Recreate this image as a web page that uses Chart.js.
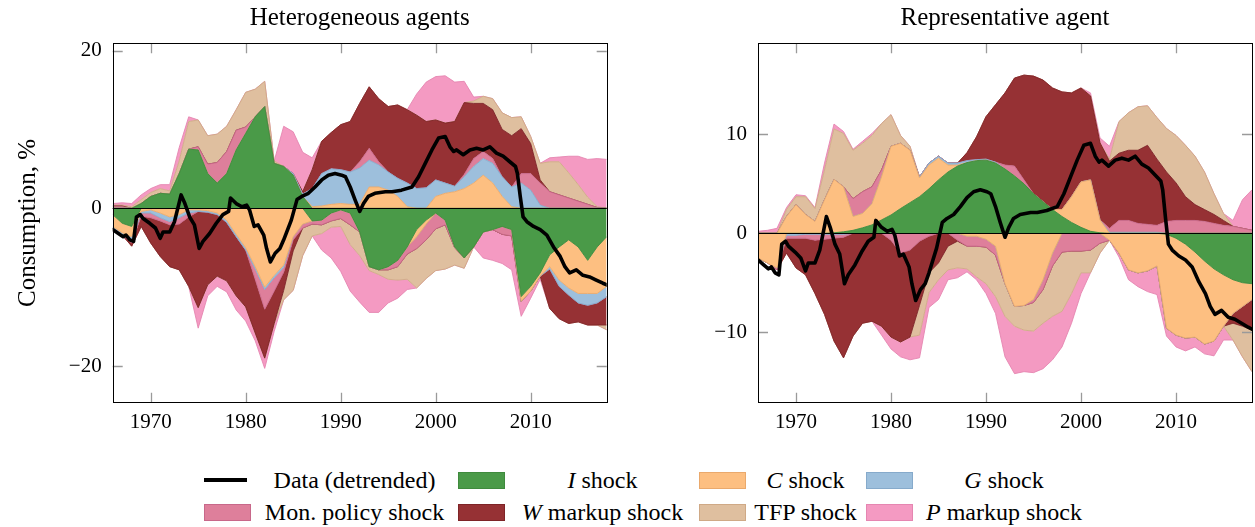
<!DOCTYPE html>
<html>
<head>
<meta charset="utf-8">
<script src="https://cdn.jsdelivr.net/npm/chart.js@4.4.0/dist/chart.umd.min.js"></script>
<style>
  body { margin: 0; background: #fff; width: 1255px; height: 527px; overflow: hidden; position: relative;
         font-family: "Liberation Serif", "Times New Roman", serif; color: #000; }
  canvas { position: absolute; top: 0; }
  #hank { left: 0; }
  #rank { left: 640px; }
  .sym { position: absolute; box-sizing: border-box; }
  .lbl { position: absolute; text-align: center; font-size: 24px; line-height: 28px; white-space: nowrap; }
</style>
</head>
<body>
<canvas id="hank" width="620" height="440"></canvas>
<canvas id="rank" width="615" height="440"></canvas>
<div id="legend"></div>
<script>
// ---- data ---------------------------------------------------------------
const years = [1966,1967,1968,1969,1970,1971,1972,1973,1974,1975,1976,1977,1978,1979,1980,1981,1982,
  1983,1984,1985,1986,1987,1988,1989,1990,1991,1992,1993,1994,1995,1996,1997,1998,1999,2000,2001,2002,
  2003,2004,2005,2006,2007,2008,2009,2010,2011,2012,2013,2014,2015,2016,2017,2018];

const xTicks = [1970, 1980, 1990, 2000, 2010];
const yTicksHank = [-20, 0, 20];
const yTicksRank = [-10, 0, 10];

// detrended consumption (same series in both panels)
const dataYears = [1966.0,1966.6,1967.1,1967.4,1967.8,1968.2,1968.5,1968.9,1969.2,1969.9,1970.5,1971.0,
  1971.3,1972.0,1972.5,1973.2,1973.6,1974.1,1974.6,1975.1,1975.5,1976.2,1976.9,1977.6,1978.2,1978.4,
  1979.0,1979.6,1980.1,1980.4,1980.9,1981.3,1981.9,1982.2,1982.6,1983.1,1983.6,1984.0,1984.8,1985.4,
  1985.9,1986.6,1987.3,1988.0,1988.7,1989.4,1990.1,1990.5,1991.0,1991.5,1992.0,1992.4,1992.9,1993.6,
  1994.7,1995.4,1996.4,1997.5,1998.2,1998.9,1999.6,2000.3,2001.0,2001.5,2001.9,2002.2,2002.9,2003.6,
  2004.3,2005.0,2005.7,2006.4,2007.1,2007.8,2008.4,2008.6,2008.9,2009.2,2009.6,2010.3,2011.0,2011.7,
  2012.4,2013.1,2013.6,2014.1,2014.8,2015.5,2016.2,2016.9,2017.6,2018.0];
const dataValues = [-2.7,-3.2,-3.6,-3.4,-4.0,-4.2,-1.1,-0.8,-1.3,-1.9,-2.5,-3.8,
  -3.0,-3.0,-1.7,1.7,0.6,-1.1,-2.1,-5.1,-4.2,-3.2,-1.9,-0.8,-0.4,1.3,
  0.6,0.2,0.4,-0.2,-2.3,-2.1,-3.4,-5.1,-6.8,-5.7,-5.1,-4.0,-1.5,1.1,
  1.5,1.9,2.7,3.6,4.2,4.4,4.2,4.0,2.7,1.1,-0.4,0.6,1.5,1.9,
  2.1,2.1,2.3,2.7,4.0,5.7,7.4,8.9,9.1,7.8,7.2,7.4,6.8,7.4,
  7.6,7.4,7.8,7.0,6.6,5.9,5.3,4.4,1.5,-1.1,-1.7,-2.3,-2.7,-3.4,
  -4.9,-6.1,-7.4,-8.2,-7.8,-8.5,-8.7,-9.1,-9.5,-9.7];

// shock contributions, heterogeneous agents
const hankI   = [-0.8,-1.9,-2.3,0.6,1.5,1.9,1.8,4.4,7.5,7.4, 4.4,3.2,4.4,7.4,9.5,11.6,12.9,5.7,5.3,4.2,
  1.5,-1.6,-1.5,-0.6,-0.2,-0.6,-3.0,-7.4,-7.8,-7.4, -6.6,-4.9,-2.7,-1.5,-0.6,-1.5,-4.9,-6.3,-4.9,-3.0,
  -2.7,-2.3,-2.7,-11.2,-9.9,-8.2,-5.9,-4.9,-4.0,-4.9, -6.6,-4.9,-3.6];
const hankC   = [-1.5,-1.2,-1.3,-0.4,-0.2,-0.6,-1.1,-0.8,-0.2,-0.2, -0.3,-0.6,-1.5,-3.3,-5.0,-7.4,-10.0,-8.5,-7.2,-3.6,
  -2.0,0.2,0.3,0.5,0.6,0.5,0.5,2.7,2.7,2.3, 1.5,0.2,-0.9,-0.5,1.5,1.9,2.1,2.5,3.2,4.2,
  3.2,1.5,0.2,-0.6,-0.6,-0.4,-1.5,-4.2,-6.1,-5.9, -4.2,-5.9,-6.3];
const hankG   = [-0.3,-0.3,-0.4,-0.2,-0.4,-0.6,-0.6,-0.4,-0.4,-0.2, -0.2,-0.2,-0.3,-0.3,-0.3,-0.3,-0.3,-0.3,-0.3,0.2,
  0.3,2.3,4.1,4.5,4.3,4.1,4.6,3.4,2.8,2.3, 2.3,3.0,2.5,2.6,2.1,1.3,0.7,1.5,2.1,2.1,
  2.5,2.5,2.5,3.2,2.3,0.4,-0.3,-0.8,-0.9,-1.2, -1.5,-1.2,-1.3];
const hankMon = [0.2,0.2,-0.4,-0.4,-0.6,-0.4,-0.4,-0.8,-0.5,0.4, 1.2,2.6,2.8,2.5,0.8,-1.3,-2.5,-1.7,-0.6,-0.4,
  -0.5,-0.4,-0.6,-1.0,-1.1,-1.5,0.8,1.5,0.4,-0.4, -0.8,-0.9,-1.5,-2.0,-2.0,-0.6,-0.1,0.3,1.0,0.9,
  0.6,-1.0,-0.8,1.2,2.1,2.8,2.1,1.7,1.3,0.9, 0.5,0.1,0.0];
const hankW   = [0.1,0.1,-0.4,-1.3,-3.2,-4.5,-5.3,-5.8,-8.8,-12.2, -9.2,-7.8,-7.4,-7.5,-7.2,-6.8,-6.2,-4.1,-2.3,-1.4,
  0.3,2.4,4.1,4.6,5.7,6.4,7.4,7.8,8.0,8.3, 9.3,9.3,9.3,8.4,7.6,7.6,8.2,9.1,7.0,6.1,
  6.2,6.0,6.5,5.7,3.8,0.4,-5.0,-4.1,-3.6,-2.4, -2.5,-2.8,-3.6];
const hankTFP = [0.1,0.1,0.2,0.5,0.5,0.6,0.4,1.6,3.5,3.4, 3.6,3.6,3.2,2.6,4.4,3.5,3.2,0.3,-1.2,-5.0,
  -3.5,-1.5,-1.1,-0.8,-1.0,-2.5,-3.0,-0.5,-0.6,-1.2, -1.7,-3.2,-5.0,-4.9,-5.3,-5.6,-2.2,-1.3,0.3,0.9,
  1.4,2.1,2.3,1.5,0.9,2.1,3.8,4.2,3.2,2.1, 0.9,0.1,-0.6];
const hankP   = [0.2,0.3,0.4,0.6,0.5,0.5,0.8,1.7,0.6,-2.6, -1.4,-1.3,-1.4,-1.8,-1.8,-1.0,-1.3,-1.0,5.1,5.3,
  5.0,1.5,-2.1,-3.9,-5.7,-5.9,-5.9,-5.3,-4.8,-3.0, -2.3,-1.3,2.7,5.0,5.5,6.0,5.0,2.7,0.5,-3.3,
  -3.9,-3.7,-4.3,-1.9,-0.9,-0.4,0.5,0.6,2.1,3.6, 4.8,6.1,6.2];

// shock contributions, representative agent
const rankI   = [0,0,0,0,0,0,0,0,0.05,0.15, 0.3,0.55,0.85,1.35,1.85,2.5,3.1,3.7,4.5,5.4,
  6.2,6.8,7.15,7.35,7.4,7.1,6.5,5.8,5.0,4.0, 3.2,2.4,1.7,1.1,0.6,0.2,0.05,0,0,0,
  0,0,0,-0.1,-0.5,-1.1,-1.9,-2.8,-3.6,-4.2, -4.7,-5.0,-5.1];
const rankC   = [-2.5,-3.0,-3.5,1.7,2.9,1.9,1.2,3.4,5.4,4.55, 1.4,1.45,2.15,4.35,6.95,6.6,5.3,1.9,2.4,2.2,
  0.7,0.1,-0.3,-0.3,-0.6,-1.3,-5.1,-7.4,-7.3,-6.7, -4.7,-2.0,0.7,2.6,4.6,5.2,1.3,-0.7,-2.0,-3.7,
  -4.0,-3.8,-3.3,-9.5,-9.8,-9.5,-8.6,-8.4,-7.3,-5.2, -3.4,-2.4,-1.6];
const rankG   = [0,0,0,-0.2,-0.2,-0.1,-0.1,-0.1,-0.1,-0.1, 0,0,0,0,0,0,0,0.1,0.2,0.2,
  0.2,0.2,0.2,0.1,0.1,0.1,0,0,0,0, 0,0,0,0,0,0,0,0.1,0.1,0.1,
  0.1,0.1,0.1,0,0,0,0,0,0,0, 0,0,0];
const rankMon = [0,0,-0.2,-0.3,-0.3,-0.4,-0.6,-0.5,-0.4,-0.3, 1.8,2.2,1.7,0.7,-0.7,-2.0,-1.7,-0.8,-0.3,0,
  0,-0.7,-1.0,-1.0,-0.8,-0.9,0.4,1.0,0.4,-0.3, -1.0,-1.3,-1.9,-1.8,-1.8,-1.7,-1.0,0.4,1.2,1.2,
  0.9,0.8,0.7,1.2,1.3,1.3,1.3,1.2,1.0,0.8, 0.7,0.5,0.3];
const rankW   = [0,0,0,-1.5,-3.0,-3.7,-5.4,-7.6,-10.4,-12.2, -10.4,-9.1,-8.9,-9.4,-9.8,-9.0,-8.8,-6.5,-3.7,-3.0,
  -1.3,-0.1,0.8,2.3,4.3,5.8,7.3,8.9,10.6,11.9, 12.3,12.3,11.9,10.5,9.5,8.5,7.8,6.8,6.8,7.1,
  7.4,8.0,6.7,5.0,3.8,2.4,1.6,1.2,0.9,0.5, -1.0,-2.0,-3.1];
const rankTFP = [0,0,0,0.7,0.8,1.8,1.3,3.0,5.1,5.4, 4.9,4.9,5.2,4.7,3.2,0.8,0.4,-3.0,-2.0,-1.7,
  -2.4,-2.7,-2.3,-3.1,-3.7,-4.2,-3.3,-2.0,-2.5,-2.9, -3.4,-5.1,-6.0,-4.3,-2.2,-2.3,-1.0,0.2,3.2,3.8,
  4.4,4.0,4.2,4.4,4.8,5.2,4.9,3.8,2.1,0.7, -1.7,-3.1,-4.2];
const rankP   = [0.2,0.3,0.5,0.2,0.2,0.1,0.1,0.7,0.5,0.2, 0.1,0.2,0.2,-0.9,-1.2,-1.5,-2.3,-2.3,-1.5,-2.0,
  -1.0,-1.0,-0.3,-0.3,-1.0,-1.7,-4.1,-4.8,-4.2,-4.2, -4.6,-4.4,-3.6,-3.0,-2.1,0.3,0.5,1.3,-0.4,-1.0,
  -1.4,-2.1,-2.9,-0.8,-1.2,-1.3,-1.0,-1.0,-1.5,-1.4, 0.6,2.9,4.1];

const shockNames  = ['I shock', 'C shock', 'G shock', 'Mon. policy shock', 'W markup shock', 'TFP shock', 'P markup shock'];
const shockColors = ['#4a9a48', '#fdbf81', '#9dbfdc', '#de7f9b', '#963134', '#dfbf9f', '#f49ac2'];
const shockEdges  = ['#3f8a3d', '#eaa96c', '#86aacb', '#c8688a', '#7e2427', '#cfa986', '#e586b1'];

// ---- chart helpers --------------------------------------------------------
const FONT = '"Liberation Serif", "Times New Roman", serif';

function minus(v) { return v < 0 ? '\u2212' + Math.abs(v) : String(v); }

function buildDatasets(shocks) {
  const ds = [{
    label: 'Data (detrended)', stack: 'data',
    data: dataYears.map((x, i) => ({ x, y: dataValues[i] })),
    borderColor: '#000', borderWidth: 3.6, pointRadius: 0, fill: false,
    borderJoinStyle: 'round', borderCapStyle: 'round'
  }];
  // positive and negative parts stack outward from zero in the same order
  ['pos', 'neg'].forEach(side => {
    shocks.forEach((vals, k) => {
      ds.push({
        label: shockNames[k], stack: side,
        data: years.map((x, i) => ({ x, y: side === 'pos' ? Math.max(vals[i], 0) : Math.min(vals[i], 0) })),
        backgroundColor: shockColors[k], borderColor: shockEdges[k], borderWidth: 0.9,
        pointRadius: 0, fill: k === 0 ? 'origin' : '-1'
      });
    });
  });
  return ds;
}

// zero line under the data line, frame and inward tick marks on top
const framePlugin = {
  id: 'frame',
  beforeDatasetDraw(chart, args) {
    if (args.index !== 0) return;
    const { ctx, chartArea: a, scales: { y } } = chart;
    const y0 = Math.round(y.getPixelForValue(0)) + 0.5;
    ctx.save();
    ctx.strokeStyle = '#000'; ctx.lineWidth = 1;
    ctx.beginPath(); ctx.moveTo(a.left, y0); ctx.lineTo(a.right, y0); ctx.stroke();
    ctx.restore();
  },
  afterDraw(chart, args, opts) {
    const { ctx, chartArea: a, scales: { x, y } } = chart;
    const len = 10;
    ctx.save();
    ctx.strokeStyle = '#9a9a9a'; ctx.lineWidth = 1.3;
    ctx.beginPath();
    xTicks.forEach(v => {
      const px = Math.round(x.getPixelForValue(v)) + 0.5;
      ctx.moveTo(px, a.bottom); ctx.lineTo(px, a.bottom - len);
      ctx.moveTo(px, a.top); ctx.lineTo(px, a.top + len);
    });
    opts.yTicks.forEach(v => {
      if (v === 0) return;
      const py = Math.round(y.getPixelForValue(v)) + 0.5;
      ctx.moveTo(a.left, py); ctx.lineTo(a.left + len, py);
      ctx.moveTo(a.right, py); ctx.lineTo(a.right - len, py);
    });
    ctx.stroke();
    ctx.strokeStyle = '#000'; ctx.lineWidth = 1;
    ctx.strokeRect(Math.round(a.left) + 0.5, Math.round(a.top) + 0.5,
                   Math.round(a.right - a.left), Math.round(a.bottom - a.top));
    ctx.restore();
  }
};

function makePanel(id, title, shocks, yMin, yMax, yTicks, axisWidth, padRight, yTitle) {
  return new Chart(document.getElementById(id), {
    type: 'line',
    data: { datasets: buildDatasets(shocks) },
    plugins: [framePlugin],
    options: {
      responsive: false,
      animation: false,
      events: [],
      layout: { padding: { left: 0, right: padRight, top: 0, bottom: 0 } },
      elements: { line: { tension: 0 } },
      plugins: {
        legend: { display: false },
        tooltip: { enabled: false },
        frame: { yTicks },
        title: {
          display: true, text: title, fullSize: false, color: '#000',
          font: { family: FONT, size: 25, weight: 'normal' },
          padding: { top: 3, bottom: 10.3 }
        }
      },
      scales: {
        x: {
          type: 'linear', min: 1966, max: 2018,
          grid: { display: false, drawTicks: false }, border: { display: false },
          afterBuildTicks: ax => { ax.ticks = xTicks.map(v => ({ value: v })); },
          afterFit: ax => { ax.height = 37.3; },
          ticks: { color: '#000', padding: 7, maxRotation: 0, autoSkip: false,
                   font: { family: FONT, size: 21 }, callback: v => String(v) }
        },
        y: {
          type: 'linear', stacked: true, min: yMin, max: yMax,
          grid: { display: false, drawTicks: false }, border: { display: false },
          afterBuildTicks: ax => { ax.ticks = yTicks.map(v => ({ value: v })); },
          afterFit: ax => { ax.width = axisWidth; },
          ticks: { color: '#000', padding: 11, font: { family: FONT, size: 21 }, callback: v => minus(v) },
          title: yTitle ? { display: true, text: yTitle, color: '#000',
                            font: { family: FONT, size: 25 }, padding: { top: 13, bottom: 0 } }
                        : { display: false }
        }
      }
    }
  });
}

makePanel('hank', 'Heterogeneous agents',
  [hankI, hankC, hankG, hankMon, hankW, hankTFP, hankP], -24.65, 20.92, yTicksHank, 112.7, 13.3, 'Consumption, %');
makePanel('rank', 'Representative agent',
  [rankI, rankC, rankG, rankMon, rankW, rankTFP, rankP], -17.14, 19.22, yTicksRank, 118, 3, null);

// ---- legend (two rows, four columns) -------------------------------------
const legendLabels = ['Data (detrended)', '<i>I</i> shock', '<i>C</i> shock', '<i>G</i> shock',
                      'Mon. policy shock', '<i>W</i> markup shock', 'TFP shock', '<i>P</i> markup shock'];
const legendSymX = [204, 458, 699, 866];
const legendText = [[251, 458], [506, 699], [745, 866], [912, 1096]];
const legendRowY = [480, 512];
// entry 0 is the data line, the rest follow shockColors in row-major order
const legendColor = [null, 0, 1, 2, 3, 4, 5, 6];

const legend = document.getElementById('legend');
legendLabels.forEach((label, n) => {
  const row = Math.floor(n / 4), col = n % 4, cy = legendRowY[row];
  const sym = document.createElement('div');
  sym.className = 'sym';
  if (legendColor[n] === null) {
    Object.assign(sym.style, { left: legendSymX[col] + 'px', top: (cy - 2) + 'px', width: '43px', height: '4px', background: '#000' });
  } else {
    const k = legendColor[n];
    Object.assign(sym.style, { left: legendSymX[col] + 'px', top: (cy - 8.5) + 'px', width: '47px', height: '17px',
      background: shockColors[k], border: '1px solid ' + shockEdges[k] });
  }
  legend.appendChild(sym);
  const txt = document.createElement('div');
  txt.className = 'lbl';
  txt.innerHTML = label;
  const [x0, x1] = legendText[col];
  Object.assign(txt.style, { left: x0 + 'px', width: (x1 - x0) + 'px', top: (cy - 14) + 'px' });
  legend.appendChild(txt);
});
</script>
</body>
</html>
